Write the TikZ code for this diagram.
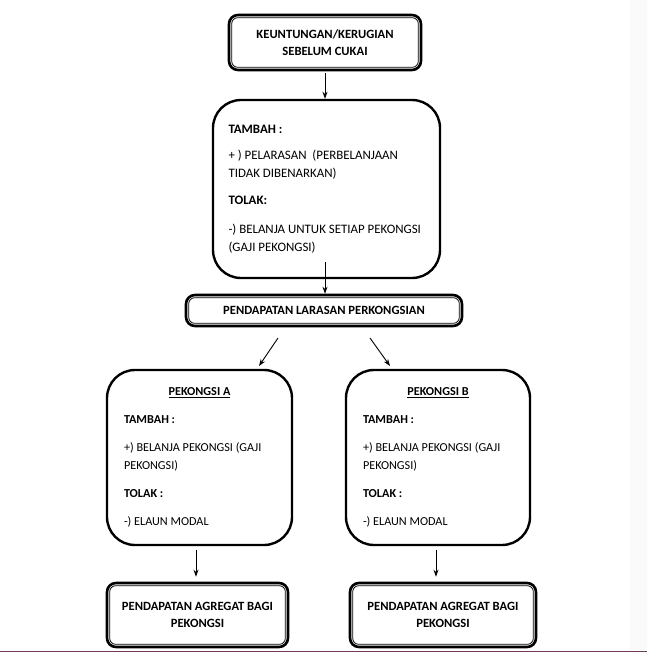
\documentclass[tikz,border=0pt]{standalone}
\usepackage{fontspec}
\setmainfont{Carlito}
\usetikzlibrary{arrows.meta,calc}
\definecolor{edgeline}{RGB}{110,60,90}
\definecolor{sidegrey}{RGB}{250,250,250}
\tikzset{
  dblbox/.style={draw, line width=2.6pt, rounded corners=9pt, align=center,
    font=\fontsize{12.6}{17.5}\selectfont\bfseries, inner sep=0pt},
  roundbox/.style={draw, line width=2.4pt, rounded corners=28pt, align=flush left,
    font=\fontsize{12.3}{18.5}\selectfont, inner sep=0pt},
  bigtext/.style={font=\fontsize{12.9}{18.5}\selectfont},
  smalltext/.style={font=\fontsize{12.2}{18.5}\selectfont},
  innerline/.style={line width=0.8pt, rounded corners=6pt},
  arr/.style={line width=0.9pt, -{Stealth[length=7pt,width=5pt]}},
}
\newcommand{\innerframe}[1]{\draw[innerline] ([shift={(4,4)}]#1.north west) rectangle ([shift={(-4,-4)}]#1.south east);}
\begin{document}
\begin{tikzpicture}[x=1pt,y=-1pt]
\useasboundingbox (0,0) rectangle (647,653);
\fill[sidegrey] (630,0) rectangle (647,650);
\draw[edgeline, line width=1pt] (0,651) -- (647,651);

% top box
\node[dblbox, minimum width=192, minimum height=55] (top) at (325,42.5)
  {KEUNTUNGAN/KERUGIAN\\SEBELUM CUKAI};
\innerframe{top}

% box 2
\node[roundbox, bigtext, minimum width=227, minimum height=178, text width=196] (adj) at (326.5,189)
  {\textbf{TAMBAH :}\\[7.5pt]
   + ) PELARASAN\ \ (PERBELANJAAN\\
   TIDAK DIBENARKAN)\\[8.5pt]
   \textbf{TOLAK:}\\[10pt]
   -) BELANJA UNTUK SETIAP PEKONGSI\\
   (GAJI PEKONGSI)};

% box 3
\node[dblbox, minimum width=276, minimum height=31] (pl) at (324,310.5)
  {PENDAPATAN LARASAN PERKONGSIAN};
\innerframe{pl}

% partner boxes
\node[roundbox, smalltext, minimum width=185, minimum height=175, text width=151] (pa) at (199.5,457.5)
  {\makebox[\linewidth]{\textbf{\underline{PEKONGSI A}}}\\[9.5pt]
   \textbf{TAMBAH :}\\[9.5pt]
   +) BELANJA PEKONGSI (GAJI\\
   PEKONGSI)\\[9.5pt]
   \textbf{TOLAK :}\\[9.5pt]
   -) ELAUN MODAL};
\node[roundbox, smalltext, minimum width=184, minimum height=175, text width=150] (pb) at (438,457.5)
  {\makebox[\linewidth]{\textbf{\underline{PEKONGSI B}}}\\[9.5pt]
   \textbf{TAMBAH :}\\[9.5pt]
   +) BELANJA PEKONGSI (GAJI\\
   PEKONGSI)\\[9.5pt]
   \textbf{TOLAK :}\\[9.5pt]
   -) ELAUN MODAL};

% bottom boxes
\node[dblbox, minimum width=181, minimum height=64] (ga) at (197.5,615)
  {PENDAPATAN AGREGAT BAGI\\PEKONGSI};
\innerframe{ga}
\node[dblbox, minimum width=186, minimum height=64] (gb) at (443,615)
  {PENDAPATAN AGREGAT BAGI\\PEKONGSI};
\innerframe{gb}

% connectors
\coordinate (a2s) at (325,262);
\coordinate (d1s) at (278,338);
\coordinate (d1e) at (259,366);
\coordinate (d2s) at (370,338);
\coordinate (d2e) at (390,366);
\coordinate (pas) at (196,550);
\coordinate (pbs) at (436,550);
\draw[arr] ($(top.south)+(0,2)$) -- (top.south |- adj.north);
\draw[arr] (a2s) -- (a2s |- pl.north);
\draw[arr] (d1s) -- (d1e);
\draw[arr] (d2s) -- (d2e);
\draw[arr] (pas) -- ($(pas |- ga.north)+(0,-5)$);
\draw[arr] (pbs) -- ($(pbs |- gb.north)+(0,-5)$);
\end{tikzpicture}
\end{document}
